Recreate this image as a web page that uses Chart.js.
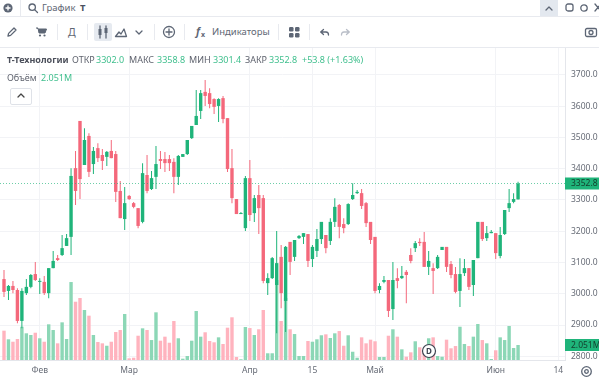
<!DOCTYPE html>
<html>
<head>
<meta charset="utf-8">
<title>График Т</title>
<script src="https://cdn.jsdelivr.net/npm/chart.js@4"></script>
<style>
  html, body { margin: 0; padding: 0; background: #fff; }
  #page { position: relative; width: 599px; height: 377px; overflow: hidden; font-family: "Noto Sans", sans-serif; }
  #chartBox { position: absolute; left: 0; top: 47px; width: 599px; height: 330px; }
  #page span { position: absolute; white-space: nowrap; line-height: 12px; }
  #page svg { position: absolute; overflow: visible; }
  .line { position: absolute; background: #e8eaef; }
  .ui { font-size: 9.5px; color: #616774; }
  .lbl { font-size: 9px; color: #5f636e; top: 54px; }
  .val { font-size: 9px; color: #3fbf8d; top: 54px; }
  .icon { fill: none; stroke: #5d6675; stroke-width: 1.3; stroke-linecap: round; stroke-linejoin: round; }
</style>
</head>
<body>
<div id="page">
  <div id="chartBox"><canvas id="candleChart"></canvas></div>

  <!-- top row -->
  <div class="line" style="left:0;top:16px;width:599px;height:1px"></div>
  <div class="line" style="left:0;top:47px;width:599px;height:1px"></div>
  <div class="line" style="left:20px;top:0;width:1px;height:16px"></div>
  <svg style="left:3px;top:3px" width="10" height="10"><circle cx="5" cy="5" r="4.6" fill="#5d6675"/><path d="M5 2.5v5M2.5 5h5" stroke="#fff" stroke-width="1.3"/></svg>
  <svg style="left:28px;top:3px" width="10" height="10"><circle class="icon" cx="4.2" cy="4.2" r="3.2"/><path class="icon" d="M6.6 6.6L9.5 9.5"/></svg>
  <span class="ui" style="left:42px;top:2px">График</span>
  <span class="ui" style="left:80px;top:2px;font-weight:700;color:#4b5160">Т</span>
  <div style="position:absolute;left:540px;top:0;width:18px;height:16px;background:#e3e8ef"></div>
  <svg style="left:545px;top:6px" width="8" height="5"><path class="icon" d="M1 4L4 1l3 3"/></svg>
  <svg style="left:565px;top:3px" width="9" height="9"><rect class="icon" x="1" y="1" width="7" height="7" rx="2"/></svg>
  <svg style="left:579px;top:3px" width="10" height="10"><circle class="icon" stroke-width="2.2" cx="5" cy="5" r="3.2"/></svg>
  <svg style="left:595px;top:4px" width="6" height="8"><path class="icon" d="M0 0l6 7M6 0L0 7"/></svg>

  <!-- second row -->
  <svg style="left:7px;top:27px" width="10" height="10"><path class="icon" d="M1 9l.6-2.6L7 1l2 2-5.400 5.400z"/></svg>
  <svg style="left:36px;top:27px" width="11" height="10"><path d="M0 1h2l1 5h6l1.500-4H3" fill="#5d6675" stroke="#5d6675" stroke-width="1"/><circle cx="4" cy="8.500" r="1.100" fill="#5d6675"/><circle cx="8.500" cy="8.500" r="1.100" fill="#5d6675"/></svg>
  <div class="line" style="left:57px;top:24px;width:1px;height:16px"></div>
  <span class="ui" style="left:68px;top:26px;font-size:10.5px">Д</span>
  <div class="line" style="left:87px;top:24px;width:1px;height:16px"></div>
  <div style="position:absolute;left:94px;top:23px;width:18px;height:18px;background:#e6eaf0;border-radius:2px"></div>
  <svg style="left:97px;top:26px" width="12" height="12"><path class="icon" d="M3 0v12M9 0v12"/><rect x="1.500" y="3" width="3" height="6" fill="#5d6675"/><rect x="7.500" y="2" width="3" height="5" fill="#5d6675"/></svg>
  <svg style="left:115px;top:27px" width="12" height="10"><path class="icon" d="M0.500 9.500L4 5l2 2 3-5 2.500 7.500z"/></svg>
  <svg style="left:135px;top:30px" width="8" height="5"><path class="icon" d="M1 1l3 3 3-3"/></svg>
  <div class="line" style="left:154px;top:24px;width:1px;height:16px"></div>
  <svg style="left:163px;top:26px" width="12" height="12"><circle class="icon" cx="6" cy="6" r="5.500"/><path class="icon" d="M6 3v6M3 6h6"/></svg>
  <div class="line" style="left:184px;top:24px;width:1px;height:16px"></div>
  <span class="ui" style="left:196px;top:25px;font-style:italic;font-weight:700;font-size:10.5px">f</span>
  <span class="ui" style="left:201px;top:29px;font-size:7px;font-weight:700">x</span>
  <span class="ui" style="left:212px;top:26px">Индикаторы</span>
  <div class="line" style="left:278px;top:24px;width:1px;height:16px"></div>
  <svg style="left:289px;top:27px" width="11" height="11"><g fill="#5d6675"><rect width="4.500" height="4.500" rx="1.200"/><rect x="6" width="4.500" height="4.500" rx="1.200"/><rect y="6" width="4.500" height="4.500" rx="1.200"/><rect x="6" y="6" width="4.500" height="4.500" rx="1.200"/></g></svg>
  <div class="line" style="left:309px;top:24px;width:1px;height:16px"></div>
  <svg style="left:320px;top:29px" width="9" height="7"><path class="icon" d="M3.500 0.500L0.700 3l2.800 2.500M1 3h5q2.500 0 2.500 3"/></svg>
  <svg style="left:341px;top:29px" width="9" height="7"><path class="icon" style="stroke:#b9bec8" d="M5.500 0.500L8.300 3l-2.800 2.500M8 3H3q-2.500 0-2.500 3"/></svg>
  <svg style="left:585px;top:27px" width="12" height="10"><rect class="icon" x="0.500" y="1.500" width="11" height="8" rx="1.500"/><circle class="icon" cx="6" cy="5.500" r="2"/></svg>

  <!-- legend -->
  <span class="lbl" style="left:7px;font-weight:700;color:#4b4f5a">Т-Технологии</span>
  <span class="lbl" style="left:72px">ОТКР</span><span class="val" style="left:96px" id="vOpen"></span>
  <span class="lbl" style="left:129px">МАКС</span><span class="val" style="left:157px" id="vHigh"></span>
  <span class="lbl" style="left:189px">МИН</span><span class="val" style="left:213px" id="vLow"></span>
  <span class="lbl" style="left:245px">ЗАКР</span><span class="val" style="left:269px" id="vClose"></span>
  <span class="val" style="left:302px">+53.8 (+1.63%)</span>
  <span class="lbl" style="left:7px;top:72px">Объём</span><span class="val" style="left:41px;top:72px">2.051M</span>
  <div style="position:absolute;left:10px;top:88px;width:20px;height:15px;border:1px solid #dfe2e8;border-radius:2px;background:#fff"></div>
  <svg style="left:17px;top:93px" width="8" height="5"><path class="icon" d="M1 4L4 1l3 3" style="stroke:#444"/></svg>

  <!-- dividend marker and axis button -->
  <svg style="left:421px;top:343px" width="16" height="16"><circle cx="8" cy="8" r="6.500" fill="#fff" stroke="#3d4350" stroke-width="1.200"/></svg>
  <span style="left:426px;top:345px;font-size:8px;color:#3d4350;font-weight:700">D</span>
  <svg style="left:581px;top:366px" width="11" height="11"><circle class="icon" cx="5.500" cy="5.500" r="4.800"/><circle class="icon" cx="5.500" cy="5.500" r="1.800"/></svg>
</div>

<script>
// Daily candles, oldest first
const opens = [3047,3009,3025,3012,2913,3002,3022,3063,3038,3038,3002,3082,3114,3124,3153,3182,3402,3553,3412,3505,
  3415,3466,3444,3438,3457,3447,3329,3239,3313,3290,3274,3230,3380,3335,3374,3431,3431,3431,3422,3374,
  3438,3447,3498,3540,3585,3646,3642,3623,3601,3626,3562,3402,3303,3255,3210,3370,3258,3316,3306,3034,
  3050,3028,3118,2977,3166,3118,3178,3182,3191,3111,3137,3175,3188,3169,3230,3284,3223,3223,3303,3322,
  3322,3290,3230,3182,3012,3038,3044,2951,3050,3050,3070,3124,3146,3166,3166,3086,3082,3082,3140,3150,
  3095,3063,3009,3066,3082,3028,3114,3230,3178,3194,3194,3121,3191,3274,3294,3302.0];
const highs = [3076,3028,3041,3018,3018,3047,3063,3102,3050,3057,3082,3137,3124,3188,3191,3402,3457,3553,3530,3514,
  3470,3482,3463,3457,3492,3457,3361,3342,3316,3294,3274,3418,3444,3393,3473,3457,3454,3444,3434,3444,
  3447,3492,3537,3652,3652,3684,3658,3626,3626,3633,3562,3463,3303,3262,3377,3428,3316,3348,3316,3066,
  3118,3201,3156,3153,3166,3172,3188,3194,3191,3156,3207,3230,3188,3242,3306,3287,3242,3290,3354,3332,
  3335,3294,3230,3182,3034,3057,3044,3102,3082,3089,3076,3146,3169,3178,3198,3137,3098,3124,3150,3150,
  3105,3086,3114,3111,3082,3108,3230,3230,3217,3204,3194,3214,3268,3335,3322,3358.8];
const lows = [2990,2980,3002,2906,2890,2996,3018,3041,2999,2996,2986,3082,3105,3121,3153,3124,3284,3303,3412,3374,
  3383,3422,3396,3409,3434,3294,3242,3204,3300,3274,3210,3226,3322,3332,3335,3399,3390,3393,3322,3348,
  3438,3444,3495,3540,3559,3601,3594,3575,3550,3546,3390,3290,3255,3255,3201,3233,3230,3191,3034,2996,
  3047,2874,2954,2878,3060,3105,3175,3159,3086,3086,3118,3159,3130,3156,3214,3178,3194,3220,3300,3319,
  3271,3214,3159,3002,3002,3034,2926,2916,3018,3047,2970,3098,3134,3153,3086,3060,2999,3079,3140,3070,
  3050,3002,2958,3057,3012,2993,3114,3169,3169,3194,3111,3114,3188,3262,3290,3301.4];
const closes = [3006,3025,3012,2913,3009,3022,3060,3044,3041,3002,3082,3105,3108,3146,3178,3377,3329,3367,3492,3390,
  3457,3434,3425,3454,3434,3326,3242,3290,3303,3278,3217,3386,3329,3370,3415,3425,3418,3418,3374,3441,
  3447,3492,3537,3569,3642,3633,3607,3598,3623,3559,3399,3306,3255,3258,3370,3252,3306,3274,3041,3050,
  3114,3098,3002,3150,3102,3172,3185,3194,3105,3150,3175,3230,3146,3230,3278,3214,3210,3287,3316,3326,
  3281,3226,3172,3009,3025,3044,2945,3044,3041,3057,3060,3105,3162,3162,3086,3105,3073,3118,3150,3086,
  3060,3006,3063,3082,3022,3108,3230,3175,3194,3198,3130,3188,3268,3290,3303,3352.8];
// Volume in millions of shares
const volumes = [4.01,2.83,2.50,2.87,4.55,3.65,3.42,3.73,2.97,2.50,4.88,4.10,2.28,5.15,2.87,10.66,7.97,8.48,6.84,6.06,
  3.42,2.46,2.28,1.95,2.50,3.83,4.10,6.29,0.23,0.31,3.32,4.33,4.10,2.73,6.52,2.64,3.19,2.36,5.33,2.97,
  0.18,0.55,2.64,6.70,3.19,3.79,2.60,2.42,3.10,2.19,4.42,5.84,0.41,0.10,4.51,4.37,3.42,4.20,6.84,0.92,
  0.92,10.94,5.33,8.48,4.20,3.55,0.55,0.55,2.60,2.50,2.83,3.38,3.51,3.01,3.65,3.96,1.95,3.38,1.13,0.31,
  3.10,2.28,2.78,2.56,0.41,0.41,3.32,4.20,3.19,1.46,0.45,1.05,2.56,1.74,1.27,2.97,3.10,0.55,0.45,2.78,
  1.60,1.91,4.55,2.19,1.91,3.19,4.92,2.73,2.28,0.14,1.33,3.10,2.73,4.65,1.64,2.051];

const priceTicks = [2800,2900,3000,3100,3200,3300,3400,3500,3600,3700];
const dateTicks = [8,28,55,69,83,110,124];
const dateLabels = ["Фев","Мар","Апр","15","Май","Июн","14"];

const GREEN = "#1fb47a";
const RED = "#f4687b";
const GREEN_VOL = "#8cd7b6";
const RED_VOL = "#ffb3be";
const TEXT = "#666b76";

const last = opens.length - 1;
document.getElementById("vOpen").textContent = opens[last].toFixed(1);
document.getElementById("vHigh").textContent = highs[last].toFixed(1);
document.getElementById("vLow").textContent = lows[last].toFixed(1);
document.getElementById("vClose").textContent = closes[last].toFixed(1);

const isUp = ctx => closes[ctx.dataIndex] >= opens[ctx.dataIndex];

// Dotted last price line and the two green boxes on the price axis
const lastPricePlugin = {
  id: "lastPrice",
  afterDatasetsDraw(chart) {
    const { ctx, chartArea, scales } = chart;
    const py = Math.round(scales.y.getPixelForValue(closes[last])) + 0.5;
    ctx.save();
    ctx.strokeStyle = "rgba(31,180,122,0.65)";
    ctx.lineWidth = 1;
    ctx.setLineDash([1, 2]);
    ctx.beginPath();
    ctx.moveTo(chartArea.left, py);
    ctx.lineTo(chartArea.right, py);
    ctx.stroke();
    ctx.restore();
  },
  afterDraw(chart) {
    const { ctx, chartArea, scales, width } = chart;
    const boxes = [
      [scales.y.getPixelForValue(closes[last]), closes[last].toFixed(1)],
      [scales.yVol.getPixelForValue(volumes[last]), volumes[last].toFixed(3) + "M"],
    ];
    ctx.save();
    ctx.font = '8.5px "Noto Sans"';
    ctx.textBaseline = "middle";
    boxes.forEach(([py, text]) => {
      ctx.fillStyle = GREEN;
      ctx.fillRect(chartArea.right, py - 6, width - chartArea.right, 12);
      ctx.fillStyle = "#143d2c";
      ctx.fillText(text, chartArea.right + 6, py + 0.5);
    });
    ctx.restore();
  },
};

document.addEventListener("DOMContentLoaded", function () {
  new Chart(document.getElementById("candleChart").getContext("2d"), {
    type: "bar",
    data: {
      datasets: [
        {
          label: "Свеча",
          order: 1,
          yAxisID: "y",
          grouped: false,
          barThickness: 3.4,
          minBarLength: 1,
          inflateAmount: 0,
          data: opens.map((o, i) => ({ x: i, y: [o, closes[i]] })),
          backgroundColor: ctx => (isUp(ctx) ? GREEN : RED),
        },
        {
          label: "Тень",
          order: 2,
          yAxisID: "y",
          grouped: false,
          barThickness: 1,
          inflateAmount: 0,
          data: lows.map((l, i) => ({ x: i, y: [l, highs[i]] })),
          backgroundColor: ctx => (isUp(ctx) ? GREEN : RED),
        },
        {
          label: "Объём",
          order: 3,
          yAxisID: "yVol",
          grouped: false,
          barThickness: 3.4,
          inflateAmount: 0,
          data: volumes.map((v, i) => ({ x: i, y: v })),
          backgroundColor: ctx => (isUp(ctx) ? GREEN_VOL : RED_VOL),
        },
      ],
    },
    options: {
      responsive: true,
      maintainAspectRatio: false,
      animation: false,
      layout: { padding: 0 },
      plugins: { legend: { display: false }, tooltip: { enabled: false } },
      scales: {
        x: {
          type: "linear",
          offset: false,
          min: -0.895,
          max: 125.5,
          afterBuildTicks: scale => { scale.ticks = dateTicks.map(v => ({ value: v })); },
          afterFit: scale => { scale.height = 17; scale.paddingLeft = 0; scale.paddingRight = 0; },
          grid: { offset: false, color: "#f2f3f6", drawTicks: false },
          border: { color: "#e4e6eb" },
          ticks: {
            autoSkip: false,
            maxRotation: 0,
            padding: 5,
            color: TEXT,
            font: { family: "Noto Sans", size: 8.5 },
            callback: value => dateLabels[dateTicks.indexOf(value)],
          },
        },
        y: {
          position: "right",
          min: 2788,
          max: 3789.6,
          afterBuildTicks: scale => { scale.ticks = priceTicks.map(v => ({ value: v })); },
          afterFit: scale => { scale.width = 34; scale.paddingTop = 0; scale.paddingBottom = 0; },
          grid: { color: "#f2f3f6", drawTicks: false },
          border: { color: "#e4e6eb" },
          ticks: {
            padding: 6,
            color: TEXT,
            font: { family: "Noto Sans", size: 8.5 },
            callback: value => value.toFixed(1),
          },
        },
        yVol: {
          display: false,
          min: 0,
          max: 42.8,
        },
      },
    },
    plugins: [lastPricePlugin],
  });
});
</script>
</body>
</html>
